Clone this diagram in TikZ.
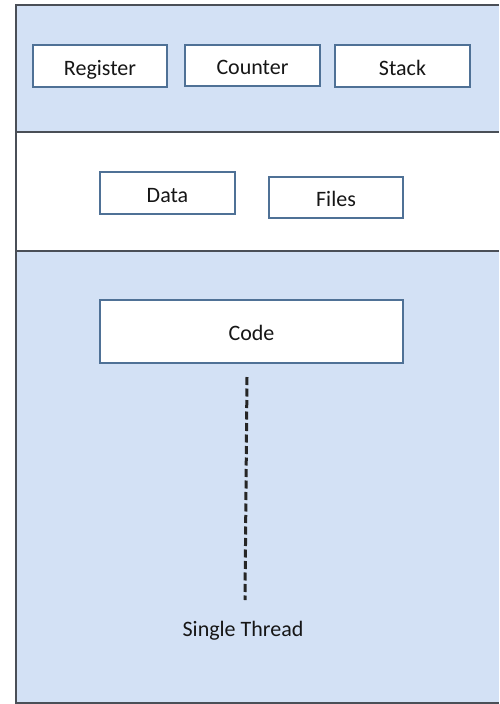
\documentclass[tikz,border=0pt]{standalone}
\usepackage{fontspec}
\setmainfont{Carlito}
\definecolor{bandblue}{HTML}{D3E1F5}
\definecolor{boxedge}{HTML}{4F7196}
\definecolor{frameline}{HTML}{4A4F57}
\definecolor{inktext}{HTML}{161616}
\begin{document}
\begin{tikzpicture}[x=1pt,y=-1pt,
  cell/.style={draw=boxedge, line width=2pt, fill=white, inner sep=0pt,
    text height=18pt, text depth=0pt,
    text=inktext, font=\fontsize{22}{26}\selectfont},
  tag/.style={text=inktext, font=\fontsize{22}{26}\selectfont, inner sep=0pt},
  frame/.style={draw=frameline, line width=2pt},
  thread/.style={line width=3pt, dash pattern=on 8pt off 3.5pt, draw=black!85}]
  \useasboundingbox (0,0) rectangle (499,704);
  \fill[white] (0,0) rectangle (499,704);
  % bands of the process block
  \fill[bandblue] (16,5) rectangle (499,132);
  \fill[white] (16,132) rectangle (499,251);
  \fill[bandblue] (16,251) rectangle (499,703);
  % frame lines
  \draw[frame] (499,5) -- (16,5) -- (16,703) -- (499,703);
  \draw[frame] (16,132) -- (499,132);
  \draw[frame] (16,251) -- (499,251);
  % per-thread items
  \node[cell, minimum width=134pt, minimum height=42pt] (reg) at (100,66) {Register};
  \node[cell, minimum width=135pt, minimum height=41pt] (cnt) at (252.5,65) {Counter};
  \node[cell, minimum width=135pt, minimum height=42pt] (stk) at (402.5,66) {Stack};
  % shared items
  \node[cell, minimum width=135pt, minimum height=42pt] (data) at (167.5,193) {Data};
  \node[cell, minimum width=134pt, minimum height=41pt] (files) at (336,197.5) {Files};
  \node[cell, minimum width=303pt, minimum height=63pt] (code) at (251.5,331.5) {Code};
  % the thread of execution
  \node[tag] (single) at (243,631) {Single Thread};
  \coordinate (tstart) at (247,377);
  \coordinate (tend) at (245,600);
  \draw[thread] (tstart) -- (tend);
\end{tikzpicture}
\end{document}
